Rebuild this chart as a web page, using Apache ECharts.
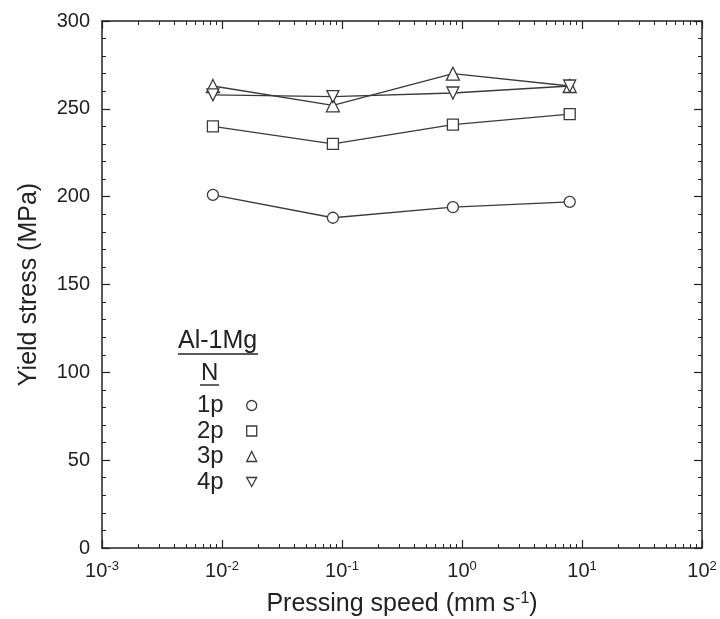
<!DOCTYPE html>
<html>
<head>
<meta charset="utf-8">
<script src="https://cdn.jsdelivr.net/npm/echarts@6/dist/echarts.min.js"></script>
<style>html,body{margin:0;padding:0;background:#fff}#c{width:720px;height:619px}</style>
</head>
<body>
<div id="c"></div>
<script>
const speeds = [0.0084, 0.084, 0.84, 7.9];
const stress1p = [201, 188, 194, 197];
const stress2p = [240, 230, 241, 247];
const stress3p = [263, 252, 270, 263];
const stress4p = [258, 257, 259, 263];
const seriesNames = ['1p', '2p', '3p', '4p'];
const xTickExponents = ['-3', '-2', '-1', '0', '1', '2'];
const yTicks = [0, 50, 100, 150, 200, 250, 300];
const legendTitle = 'Al-1Mg';
const legendSub = 'N';

const xMinor = [];
for (let e = -3; e < 2; e++) {
  for (let m = 2; m <= 9; m++) xMinor.push(+(m * Math.pow(10, e)).toPrecision(3));
}

const FONT = '"Liberation Sans", Arial, Helvetica, sans-serif';
const INK = '#222';
const LINE = '#3a3a3a';
const invTri = 'path://M0,0 L10,0 L5,9 Z';
const symbols = ['circle', 'rect', 'triangle', invTri];
const sizes = [11, 11, 13, 12];
const data = [stress1p, stress2p, stress3p, stress4p];

const chart = echarts.init(document.getElementById('c'), null, {renderer: 'canvas'});

const baseX = {
  type: 'log', logBase: 10, min: 0.001, max: 100, gridIndex: 0,
  splitLine: {show: false}, minorSplitLine: {show: false}
};

chart.setOption({
  backgroundColor: '#fff',
  animation: false,
  textStyle: {fontFamily: FONT, color: INK},
  grid: {left: 102, top: 21, right: 18, bottom: 71, containLabel: false, outerBoundsMode: 'none'},
  xAxis: [
    Object.assign({}, baseX, {
      position: 'bottom',
      axisLine: {show: true, lineStyle: {color: INK, width: 1.5}},
      axisTick: {show: true, inside: true, length: 8, lineStyle: {color: INK, width: 1.2}},
      axisLabel: {
        show: true, margin: 12, color: INK, fontFamily: FONT, fontSize: 20,
        formatter: function (v) {
          const e = Math.round(Math.log10(v));
          const idx = e + 3;
          return '{b|10}{sup|' + xTickExponents[idx] + '}';
        },
        rich: {
          b: {fontSize: 20, fontFamily: FONT, color: INK, verticalAlign: 'bottom'},
          sup: {fontSize: 13, fontFamily: FONT, color: INK, verticalAlign: 'bottom', padding: [0, 0, 8, 0]}
        }
      },
      name: 'Pressing speed (mm s{sup|-1})',
      nameLocation: 'middle', nameGap: 43,
      nameTextStyle: {
        fontSize: 25, fontFamily: FONT, color: INK,
        rich: {sup: {fontSize: 16, fontFamily: FONT, color: INK, verticalAlign: 'bottom', padding: [0, 0, 11, 0]}}
      }
    }),
    Object.assign({}, baseX, {
      position: 'bottom',
      axisLine: {show: false},
      axisTick: {show: true, inside: true, length: 4, customValues: xMinor, lineStyle: {color: INK, width: 1}},
      axisLabel: {show: false}
    }),
    Object.assign({}, baseX, {
      position: 'top',
      axisLine: {show: true, lineStyle: {color: INK, width: 1.5}},
      axisTick: {show: true, inside: true, length: 8, lineStyle: {color: INK, width: 1.2}},
      axisLabel: {show: false}
    }),
    Object.assign({}, baseX, {
      position: 'top',
      axisLine: {show: false},
      axisTick: {show: true, inside: true, length: 4, customValues: xMinor, lineStyle: {color: INK, width: 1}},
      axisLabel: {show: false}
    })
  ],
  yAxis: [
    {
      type: 'value', min: 0, max: 300, interval: 50, position: 'left',
      axisLine: {show: true, lineStyle: {color: INK, width: 1.5}},
      axisTick: {show: true, inside: true, length: 8, lineStyle: {color: INK, width: 1.2}},
      minorTick: {show: true, splitNumber: 5, length: 4, lineStyle: {color: INK, width: 1}},
      splitLine: {show: false}, minorSplitLine: {show: false},
      axisLabel: {show: true, margin: 12, color: INK, fontFamily: FONT, fontSize: 20,
        customValues: yTicks},
      name: 'Yield stress (MPa)',
      nameLocation: 'middle', nameGap: 60,
      nameTextStyle: {fontSize: 25, fontFamily: FONT, color: INK}
    },
    {
      type: 'value', min: 0, max: 300, interval: 50, position: 'right',
      axisLine: {show: true, lineStyle: {color: INK, width: 1.5}},
      axisTick: {show: true, inside: true, length: 8, lineStyle: {color: INK, width: 1.2}},
      minorTick: {show: true, splitNumber: 5, length: 4, lineStyle: {color: INK, width: 1}},
      splitLine: {show: false}, minorSplitLine: {show: false},
      axisLabel: {show: false}
    }
  ],
  legend: {
    orient: 'vertical',
    left: 192, top: 388,
    align: 'right',
    itemWidth: 10, itemHeight: 10,
    itemGap: 0.5,
    selectedMode: false,
    textStyle: {fontSize: 24, fontFamily: FONT, color: INK, lineHeight: 25, padding: [0, 18, 0, 0]},
    itemStyle: {color: '#fff', borderColor: LINE, borderWidth: 1.3},
    data: seriesNames.map((n, i) => ({name: n, icon: symbols[i]}))
  },
  graphic: [
    {type: 'text', left: 178, top: 329, style: {text: legendTitle, font: '25px ' + FONT, fill: INK}},
    {type: 'line', shape: {x1: 178, y1: 354, x2: 258, y2: 354}, style: {stroke: INK, lineWidth: 1.4}},
    {type: 'text', left: 201, top: 361, style: {text: legendSub, font: '24px ' + FONT, fill: INK}},
    {type: 'line', shape: {x1: 200, y1: 385, x2: 219, y2: 385}, style: {stroke: INK, lineWidth: 1.4}}
  ],
  series: seriesNames.map((n, i) => ({
    name: n,
    type: 'line',
    xAxisIndex: 0, yAxisIndex: 0,
    data: speeds.map((s, j) => [s, data[i][j]]),
    symbol: symbols[i],
    symbolSize: sizes[i],
    showAllSymbol: true,
    lineStyle: {color: LINE, width: 1.3},
    itemStyle: {color: '#fff', borderColor: LINE, borderWidth: 1.3},
    emphasis: {disabled: true},
    z: 2 + i
  }))
});
</script>
</body>
</html>
